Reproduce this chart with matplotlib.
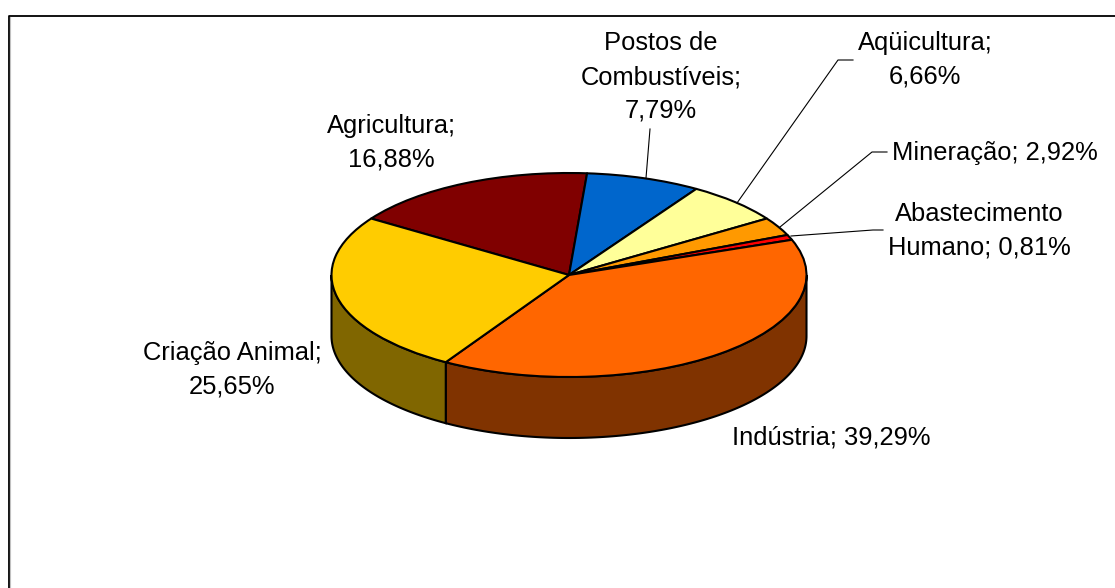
import matplotlib
matplotlib.use("Agg")
import matplotlib.pyplot as plt
import numpy as np
from matplotlib.lines import Line2D
from matplotlib.patches import Polygon
from matplotlib.transforms import Affine2D

plt.rcParams["font.family"] = ["Liberation Sans", "DejaVu Sans"]

# data, clockwise from Agricultura
sectors = ["Agricultura", "Postos de Combustíveis", "Aqüicultura", "Mineração",
           "Abastecimento Humano", "Indústria", "Criação Animal"]
shares = [16.88, 7.79, 6.66, 2.92, 0.81, 39.29, 25.65]
top_colors = ["#800000", "#0066CC", "#FFFF99", "#FF9900", "#FF0000", "#FF6600", "#FFCC00"]
side_colors = ["#400000", "#003366", "#808050", "#804D00", "#800000", "#803300", "#806600"]
labels = ["Agricultura;\n16,88%", "Postos de\nCombustíveis;\n7,79%", "Aqüicultura;\n6,66%",
          "Mineração; 2,92%", "Abastecimento\nHumano; 0,81%", "Indústria; 39,29%",
          "Criação Animal;\n25,65%"]

W, H = 1115, 588
CX, CY, RX, RY, DEPTH = 569, 275, 237.5, 102, 61
START = 146.4

fig = plt.figure(figsize=(W / 100, H / 100), dpi=100, facecolor="white")
ax = fig.add_axes([0, 0, 1, 1])

# top face, squashed into an ellipse by the axes limits
ax.pie(shares, colors=top_colors, startangle=START, counterclock=False,
       wedgeprops=dict(edgecolor="black", linewidth=1.5, joinstyle="round"))
ax.set_aspect("auto")
ax.set_xlim(-CX / RX, (W - CX) / RX)
ax.set_ylim(-(H - CY) / RY, CY / RY)

# side wall, only the part facing the viewer (angles -180..0)
edges = START - np.cumsum([0] + shares) * 3.6
for i in range(len(shares)):
    hi = min(edges[i], 0)
    lo = max(edges[i + 1], -180)
    if hi <= lo:
        continue
    th = np.radians(np.linspace(hi, lo, 120))
    xs = np.cos(th)
    ys = np.sin(th)
    pts = np.vstack([np.column_stack([xs, ys]),
                     np.column_stack([xs, ys - DEPTH / RY])[::-1]])
    ax.add_patch(Polygon(pts, closed=True, facecolor=side_colors[i], edgecolor="black",
                         linewidth=1.5, zorder=0.5))

# pixel coordinates for the annotations
px = Affine2D().scale(1, -1).translate(0, H)

label_pos = [(391, 142.5), (661, 77), (925, 59.5), (995, 153), (979, 230.5), (831, 438), (232, 369.5)]
for txt, (x, y) in zip(labels, label_pos):
    fig.text(x, y, txt, transform=px, ha="center", va="center", multialignment="center",
             fontsize=18.4, color="black", linespacing=1.5)

leaders = [
    ([650, 646], [129, 178]),
    ([853, 838, 737], [60, 60, 203]),
    ([887, 872, 780], [152, 152, 227]),
    ([883, 873, 791], [230, 230, 236]),
]
for xs, ys in leaders:
    fig.add_artist(Line2D(xs, ys, transform=px, color="black", linewidth=0.8))

# chart frame, cut off at the right and bottom in the screenshot
fig.add_artist(Line2D([8.5, 8.5, W], [H, 16, 16], transform=px, color="black", linewidth=1.3))
fig.add_artist(Line2D([10.2, 10.2], [H, 17], transform=px, color="#c0c0c0", linewidth=0.8))

fig.savefig("out.png", dpi=100)
